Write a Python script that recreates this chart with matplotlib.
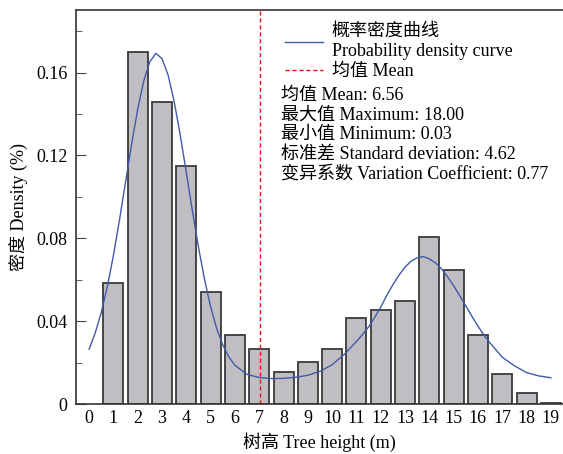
import numpy as np
import matplotlib.pyplot as plt
from matplotlib.ticker import MultipleLocator, FuncFormatter

plt.rcParams['font.family'] = ['Liberation Serif', 'Noto Sans CJK SC']
plt.rcParams['font.size'] = 13

# histogram bars (bin centre, density)
heights = [1, 2, 3, 4, 5, 6, 7, 8, 9, 10, 11, 12, 13, 14, 15, 16, 17, 18, 19]
density = [0.0586, 0.1697, 0.146, 0.115, 0.0541, 0.0331, 0.0267, 0.0153, 0.0201, 0.0264,
           0.0416, 0.0456, 0.0498, 0.0808, 0.0646, 0.0331, 0.0145, 0.0054, 0.0003]

# density curve, values
curve_x = [0.0, 0.25, 0.5, 0.75, 1.0, 1.25, 1.5, 1.75, 2.0, 2.25, 2.5, 2.75, 3.0, 3.25,
           3.5, 3.75, 4.0, 4.25, 4.5, 4.75, 5.0, 5.25, 5.5, 5.75, 6.0, 6.5, 7.0, 7.5,
           8.0, 8.5, 9.0, 9.5, 10.0, 10.5, 11.0, 11.25, 11.5, 11.75, 12.0, 12.25, 12.5,
           12.75, 13.0, 13.25, 13.5, 13.75, 14.0, 14.25, 14.5, 14.75, 15.0, 15.25, 15.5,
           15.75, 16.0, 16.25, 16.5, 17.0, 17.5, 18.0, 18.5, 19.0]
curve_y = [0.0265, 0.0343, 0.0442, 0.0567, 0.0718, 0.0889, 0.1073, 0.1256, 0.1424,
           0.1561, 0.1653, 0.1693, 0.1667, 0.1588, 0.1460, 0.1298, 0.1117, 0.0932,
           0.0757, 0.0601, 0.0469, 0.0364, 0.0285, 0.0227, 0.0187, 0.0143, 0.0128,
           0.0123, 0.0124, 0.0129, 0.0139, 0.0158, 0.0190, 0.0240, 0.0302, 0.0336,
           0.0372, 0.0418, 0.0468, 0.0525, 0.0576, 0.0622, 0.0661, 0.0690, 0.0706,
           0.0712, 0.0701, 0.0682, 0.0653, 0.0615, 0.0571, 0.0523, 0.0474, 0.0424,
           0.0376, 0.0332, 0.0295, 0.0226, 0.0185, 0.0152, 0.0136, 0.0127]

mean_line = 7.03

stats = ['均值 Mean: 6.56',
         '最大值 Maximum: 18.00',
         '最小值 Minimum: 0.03',
         '标准差 Standard deviation: 4.62',
         '变异系数 Variation Coefficient: 0.77']

fig = plt.figure(figsize=(5.63, 4.54), dpi=100)
ax = fig.add_axes([0.135, 0.110, 0.865, 0.867])

ax.bar(heights, density, width=0.82, color='#c0bec2', edgecolor='#3a3a3a', linewidth=1.3)
ax.plot(curve_x, curve_y, color='#3f5baa', linewidth=1.0,
        label='概率密度曲线\nProbability density curve')
ax.axvline(mean_line, color='#e8141c', linestyle=(0, (3, 2)), linewidth=1.0, label='均值 Mean')

ax.set_xlim(-0.54, 19.5)
ax.set_ylim(0, 0.190)
ax.set_xticks(range(0, 20))
ax.tick_params(axis='x', length=0, pad=4)
ax.yaxis.set_major_locator(MultipleLocator(0.04))
ax.yaxis.set_minor_locator(MultipleLocator(0.02))
ax.yaxis.set_major_formatter(FuncFormatter(lambda v, p: '0' if v == 0 else f'{v:.2f}'))
ax.tick_params(axis='y', which='major', direction='in', length=7, pad=6, color='#444444')
ax.tick_params(axis='y', which='minor', direction='in', length=4, color='#444444')
ax.spines['right'].set_visible(False)
for s in ['left', 'top', 'bottom']:
    ax.spines[s].set_linewidth(1.2)
    ax.spines[s].set_color('#333333')

ax.set_xlabel('树高 Tree height (m)', labelpad=4)
ax.set_ylabel('密度 Density (%)', labelpad=6)

ax.legend(loc='upper left', bbox_to_anchor=(0.403, 1.0), frameon=False,
          handlelength=2.1, handletextpad=0.5, borderpad=0.2, labelspacing=0.2)
ax.text(0.42, 0.806, '\n'.join(stats), transform=ax.transAxes,
        va='top', ha='left', linespacing=1.2)

plt.savefig('out.png', dpi=100)
